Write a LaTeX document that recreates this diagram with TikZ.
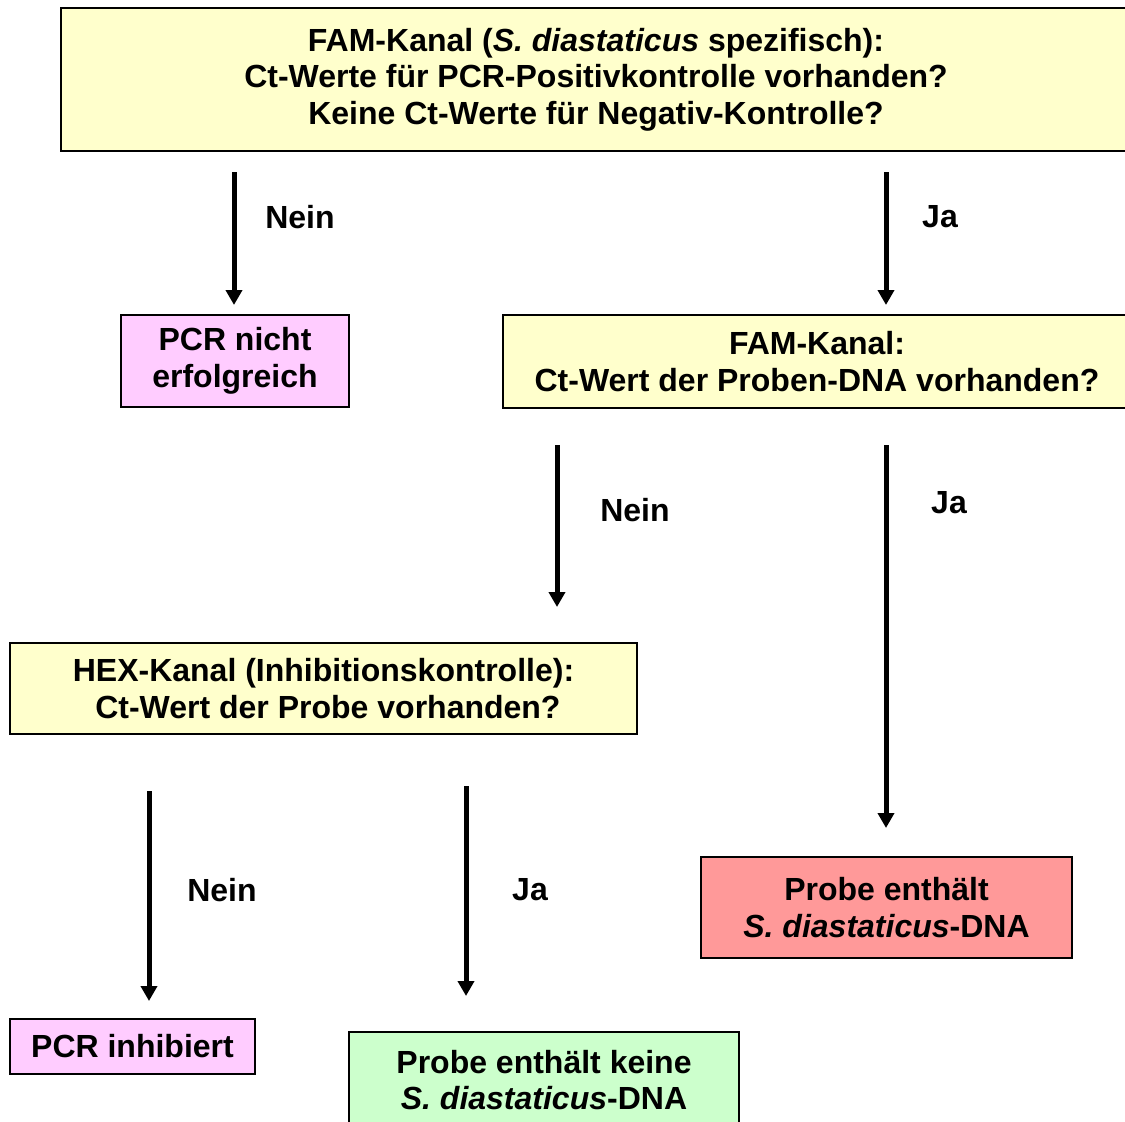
\documentclass[tikz,border=0pt]{standalone}
\usepackage{fontspec}
\setmainfont{Liberation Sans}
\usetikzlibrary{arrows.meta}
\definecolor{askyellow}{HTML}{FFFFCC}
\definecolor{failpink}{HTML}{FFCCFF}
\definecolor{hitred}{HTML}{FF9999}
\definecolor{missgreen}{HTML}{CCFFCC}
\tikzset{
  box/.style={draw=black, line width=1.8pt, align=center, inner sep=0pt,
    font=\fontsize{32}{36.5}\selectfont\bfseries},
  answer/.style={font=\fontsize{32}{36.5}\selectfont\bfseries},
  flow/.style={line width=5pt, ->}
}
\newcommand{\sdia}{\textit{S. diastaticus}}

\begin{document}
\begin{tikzpicture} [x=1pt, y=-1pt, >={Triangle[width=16pt,length=15pt]}]
\useasboundingbox (0,0) rectangle (1125,1122);
\clip (0,0) rectangle (1125,1122);
% questions
\node[box, fill=askyellow, minimum width=1070, minimum height=143] (fam) at (596,79.5)
  {FAM-Kanal (\sdia{} spezifisch):\\Ct-Werte f\"ur PCR-Positivkontrolle vorhanden?\\Keine Ct-Werte f\"ur Negativ-Kontrolle?};
\node[box, fill=askyellow, minimum width=628, minimum height=93] (famprobe) at (817,361.5)
  {FAM-Kanal:\\Ct-Wert der Proben-DNA vorhanden?};
\node[box, fill=askyellow, minimum width=627, minimum height=91] (hex) at (323.5,688.5)
  {HEX-Kanal (Inhibitionskontrolle):\\ \ Ct-Wert der Probe vorhanden?};
% results
\node[box, fill=failpink, minimum width=228, minimum height=92] (failpcr) at (235,361)
  {PCR nicht\\erfolgreich};
\node[box, fill=hitred, minimum width=371, minimum height=101] (positive) at (886.5,907.5)
  {Probe enth\"alt\\\sdia-DNA};
\node[box, fill=failpink, minimum width=245, minimum height=55] (inhibit) at (132.5,1046.5)
  {PCR inhibiert};
\node[box, fill=missgreen, minimum width=390, minimum height=96] (negative) at (544,1080)
  {Probe enth\"alt keine\\\sdia-DNA};
% arrow ends
\coordinate (s1) at (234,172);  \coordinate (e1) at (234,305);
\coordinate (s2) at (886,172);  \coordinate (e2) at (886,305);
\coordinate (s3) at (557,445);  \coordinate (e3) at (557,607);
\coordinate (s4) at (886,445);  \coordinate (e4) at (886,828);
\coordinate (s5) at (149,791);  \coordinate (e5) at (149,1001);
\coordinate (s6) at (466,786);  \coordinate (e6) at (466,996);
\foreach \n in {1,...,6} {
  \draw[flow] (s\n)--(e\n);
}
% answers
\node[answer] (no1) at (300,217) {Nein};
\node[answer] (yes1) at (940,217) {Ja};
\node[answer] (no2) at (635,510) {Nein};
\node[answer] (yes2) at (949,503) {Ja};
\node[answer] (no3) at (222,890) {Nein};
\node[answer] (yes3) at (530,890) {Ja};
\end{tikzpicture}
\end{document}
